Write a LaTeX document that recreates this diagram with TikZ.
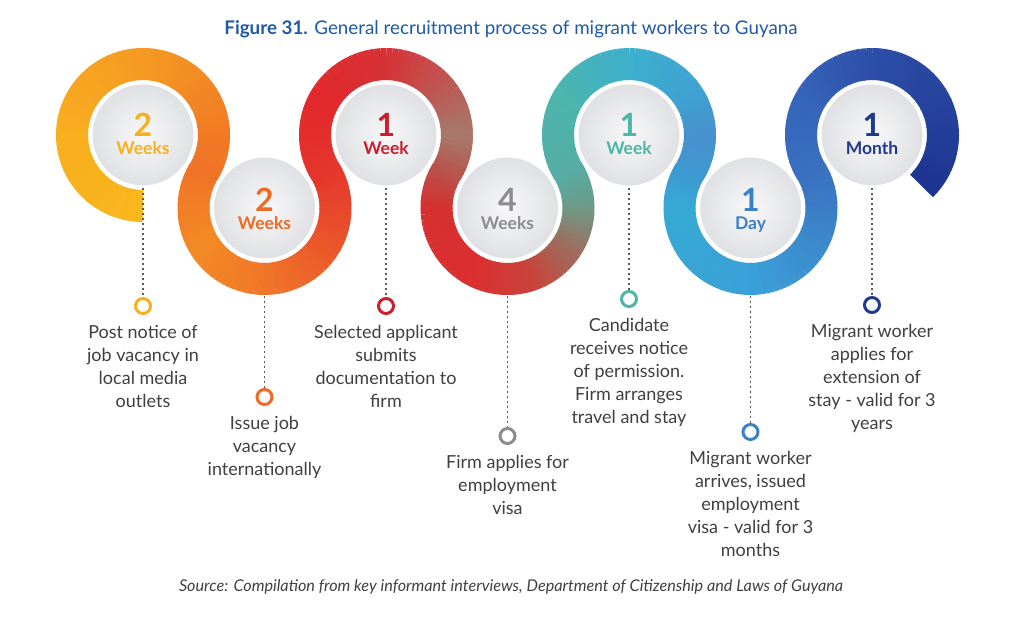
\documentclass[tikz,border=0pt]{standalone}
\usepackage{fontspec}
\setmainfont{Lato}
\usetikzlibrary{positioning}

\definecolor{titleblue}{HTML}{1F5AA6}
\definecolor{txtgray}{HTML}{404040}
\definecolor{dotgray}{HTML}{5A5A5A}
\definecolor{diskin}{HTML}{F8F8F9}
\definecolor{diskout}{HTML}{DFE0E3}
\definecolor{kyellow}{HTML}{F5B120}
\definecolor{korange}{HTML}{EE6A25}
\definecolor{kred}{HTML}{C8202F}
\definecolor{kgrey}{HTML}{8C8C8C}
\definecolor{kteal}{HTML}{4DB6A6}
\definecolor{kblue}{HTML}{3C80C6}
\definecolor{knavy}{HTML}{1F3A8A}

\newcommand{\ribbonarc}[5]{%
  \edef\tmpcol{\noexpand\definecolor{rbA}{HTML}{#4}\noexpand\definecolor{rbB}{HTML}{#5}}\tmpcol
  \pgfmathtruncatemacro{\nn}{max(2,abs(#3-#2)/4)}%
  \foreach \k in {1,...,\nn}{%
    \pgfmathsetmacro{\angA}{#2+(#3-#2)*(\k-1)/\nn}%
    \pgfmathsetmacro{\angB}{#2+(#3-#2)*\k/\nn+0.8*sign(#3-#2)}%
    \pgfmathtruncatemacro{\mixp}{100*(\k-0.5)/\nn}%
    \draw[ribbon,draw=rbB!\mixp!rbA] (#1) ++(\angA:71pt) arc[start angle=\angA,end angle=\angB,radius=71pt];
  }}

\begin{document}
\begin{tikzpicture}[x=1pt,y=1pt,
  ribbon/.style={line width=32pt},
  disk/.style={circle,minimum size=104pt,inner sep=0pt,draw=white,line width=3pt,
    inner color=diskin,outer color=diskout},
  num/.style={anchor=base,inner sep=0pt,font=\fontsize{32}{32}\selectfont\bfseries},
  unit/.style={anchor=base,inner sep=0pt,font=\fontsize{17.5}{18}\selectfont\bfseries},
  ring/.style={circle,draw,line width=3pt,minimum size=15pt,inner sep=0pt},
  link/.style={draw=dotgray,line width=1.5pt,dash pattern=on 1.5pt off 3.5pt},
  note/.style={align=center,inner sep=0pt,text=txtgray,font=\fontsize{18}{23}\selectfont}]

\path[use as bounding box,fill=white] (0,0) rectangle (1024,617);

\foreach \i/\x/\y in {1/143/482,2/264.5/409,3/386/482,4/507.5/409,5/629/482,6/750.5/409,7/872/482}
  \coordinate (c\i) at (\x,\y);

\foreach \cc/\sa/\ea/\ca/\cb in {
  c1/-90/-180/F9B81C/F8AE1F, c1/-180/-270/F8AE1F/F59A23, c1/-270/-360/F59A23/F07A24, c1/-360/-391/F07A24/F07228,
  c2/149/210/F07228/F38A24, c2/210/270/F38A24/F07628, c2/270/330/F07628/EA562B, c2/330/391/EA562B/E5352C,
  c3/211/150/E5352C/E2282B, c3/150/90/E2282B/D63236, c3/90/30/D63236/B8605A, c3/30/0/B8605A/A67A6C, c3/0/-31/A67A6C/B8544D,
  c4/149/180/B8544D/D5302F, c4/180/240/D5302F/DC2E30, c4/240/290/DC2E30/C8443C, c4/290/330/C8443C/9A7060, c4/330/360/9A7060/6E9A88, c4/360/391/6E9A88/55ADA5,
  c5/211/150/55ADA5/4CB5AE, c5/150/90/4CB5AE/3CB0CC, c5/90/30/3CB0CC/3FA0D2, c5/30/0/3FA0D2/4790CE, c5/0/-31/4790CE/3E98D2,
  c6/149/180/3E98D2/36AAD4, c6/180/270/36AAD4/3AA0D8, c6/270/330/3AA0D8/3C8ACC, c6/330/391/3C8ACC/3A70C0,
  c7/211/150/3A70C0/3564B8, c7/150/90/3564B8/2C4EA8, c7/90/0/2C4EA8/233E98, c7/0/-45/233E98/1D3490}
  \ribbonarc{\cc}{\sa}{\ea}{\ca}{\cb};

\foreach \i/\n/\u/\col/\dy in {1/2/Weeks/kyellow/-2, 2/2/Weeks/korange/-4, 3/1/Week/kred/-2, 4/4/Weeks/kgrey/-4,
    5/1/Week/kteal/-2, 6/1/Day/kblue/-4, 7/1/Month/knavy/-2}{
  \node[disk] (d\i) at (c\i) {};
  \node[num,text=\col] (n\i) at ([yshift=\dy]c\i) {\n};
  \node[unit,text=\col] (u\i) at ([yshift=\dy-18]c\i) {\u};
}

\node[ring,draw=kyellow] (r1) at (143,311) {};
\node[ring,draw=korange] (r2) at (264.5,220) {};
\node[ring,draw=kred] (r3) at (386,311) {};
\node[ring,draw=kgrey] (r4) at (507.5,181) {};
\node[ring,draw=kteal] (r5) at (629,318) {};
\node[ring,draw=kblue] (r6) at (750.5,185) {};
\node[ring,draw=knavy] (r7) at (872,312) {};

\draw[link] (d1.south) -- (r1.north);
\draw[link] ([yshift=-35pt]d2.south) -- (r2.north);
\draw[link] (d3.south) -- (r3.north);
\draw[link] ([yshift=-35pt]d4.south) -- (r4.north);
\draw[link] (d5.south) -- (r5.north);
\draw[link] ([yshift=-35pt]d6.south) -- (r6.north);
\draw[link] (d7.south) -- (r7.north);

\node[note,below=10pt of r1] (t1) {Post notice of\\job vacancy in\\local media\\outlets};
\node[note,below=10pt of r2] (t2) {Issue job\\vacancy\\internationally};
\node[note,below=10pt of r3] (t3) {Selected applicant\\submits\\documentation to\\firm};
\node[note,below=10pt of r4] (t4) {Firm applies for\\employment\\visa};
\node[note,below=10pt of r5] (t5) {Candidate\\receives notice\\of permission.\\Firm arranges\\travel and stay};
\node[note,below=10pt of r6] (t6) {Migrant worker\\arrives, issued\\employment\\visa - valid for 3\\months};
\node[note,below=10pt of r7] (t7) {Migrant worker\\applies for\\extension of\\stay - valid for 3\\years};

\node[text=titleblue,font=\fontsize{18.8}{21}\selectfont] (title) at (511,588)
  {\textbf{Figure 31.} General recruitment process of migrant workers to Guyana};
\node[text=txtgray,font=\fontsize{16.2}{18}\selectfont\itshape] (source) at (511,30)
  {Source: Compilation from key informant interviews, Department of Citizenship and Laws of Guyana};
\end{tikzpicture}
\end{document}
